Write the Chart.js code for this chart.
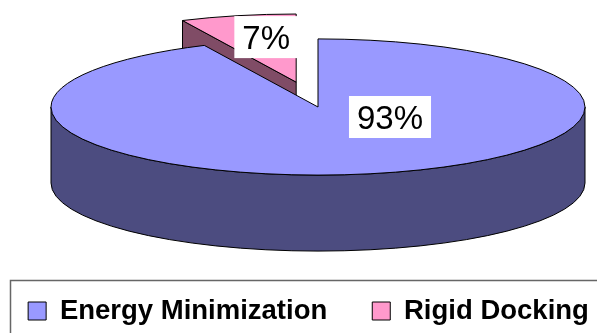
<!DOCTYPE html>
<html>
<head>
<meta charset="utf-8">
<script src="https://cdn.jsdelivr.net/npm/chart.js@4/dist/chart.umd.min.js"></script>
<style>
  html, body { margin: 0; padding: 0; background: #fff; }
</style>
</head>
<body>
<canvas id="pieChart" width="597" height="333"></canvas>
<script>
// Share of poses by refinement method
const categories = ['Energy Minimization', 'Rigid Docking'];
const shares = [93, 7];

// Look of the 3-D pie
const topColors = ['#9999FF', '#FF99CC'];
const sideColors = ['#4C4C80', '#804C66'];
const explodeBy = [0, 100];        // pull-out of each slice, before flattening
const pieCenter = { x: 318, y: 107 };
const tilt = 0.255;                // vertical squash of the top face
const depth = 76;                  // height of the side walls
const labelOffsets = [[72, 10], [-30, -45]];   // label centre from slice apex

// map a point of the flat pie onto the tilted one
function project(chart, x, y) {
  const o = chart.$origin;
  return { x: pieCenter.x + (x - o.x), y: pieCenter.y + (y - o.y) * tilt };
}

function drawWalls(ctx, chart, arc, color) {
  const c = project(chart, arc.x, arc.y);
  const rx = arc.outerRadius, ry = rx * tilt;
  const s = arc.startAngle, e = arc.endAngle;
  ctx.save();
  ctx.fillStyle = color;
  ctx.strokeStyle = '#000';
  ctx.lineWidth = 1;
  ctx.lineJoin = 'round';

  // outer rim, only the front half shows
  for (let k = -1; k <= 1; k++) {
    const lo = Math.max(s, k * 2 * Math.PI);
    const hi = Math.min(e, k * 2 * Math.PI + Math.PI);
    if (hi <= lo) continue;
    ctx.beginPath();
    ctx.ellipse(c.x, c.y, rx, ry, 0, lo, hi);
    ctx.ellipse(c.x, c.y + depth, rx, ry, 0, hi, lo, true);
    ctx.closePath();
    ctx.fill();
    ctx.stroke();
  }

  // cut faces turned toward the viewer
  [[s, -1], [e, 1]].forEach(([t, side]) => {
    if (side * Math.cos(t) <= 1e-6) return;
    const px = c.x + rx * Math.cos(t), py = c.y + ry * Math.sin(t);
    ctx.beginPath();
    ctx.moveTo(c.x, c.y);
    ctx.lineTo(px, py);
    ctx.lineTo(px, py + depth);
    ctx.lineTo(c.x, c.y + depth);
    ctx.closePath();
    ctx.fill();
    ctx.stroke();
  });
  ctx.restore();
}

const pie3d = {
  id: 'pie3d',
  afterDatasetUpdate(chart, args) {
    const arcs = args.meta.data;
    if (!arcs.length) return;
    chart.$origin = { x: arcs[0].x, y: arcs[0].y };
    arcs.forEach((arc, i) => {
      const mid = (arc.startAngle + arc.endAngle) / 2;
      arc.x += Math.cos(mid) * explodeBy[i];
      arc.y += Math.sin(mid) * explodeBy[i];
    });
  },
  beforeDatasetsDraw(chart) {
    const ctx = chart.ctx;
    const arcs = chart.getDatasetMeta(0).data;
    // walls first, back slices before front ones
    arcs.map((a, i) => i)
      .sort((a, b) => arcs[a].y - arcs[b].y)
      .forEach(i => drawWalls(ctx, chart, arcs[i], sideColors[i]));
    // the library then paints the top faces into a flattened context
    ctx.save();
    ctx.translate(pieCenter.x, pieCenter.y);
    ctx.scale(1, tilt);
    ctx.translate(-chart.$origin.x, -chart.$origin.y);
  },
  afterDatasetsDraw(chart) {
    const ctx = chart.ctx;
    ctx.restore();
    const arcs = chart.getDatasetMeta(0).data;
    const total = shares.reduce((a, b) => a + b, 0);

    ctx.save();
    ctx.strokeStyle = '#000';
    ctx.lineWidth = 1;
    ctx.lineJoin = 'round';
    arcs.forEach(arc => {
      const c = project(chart, arc.x, arc.y);
      ctx.beginPath();
      ctx.moveTo(c.x, c.y);
      ctx.ellipse(c.x, c.y, arc.outerRadius, arc.outerRadius * tilt, 0, arc.startAngle, arc.endAngle);
      ctx.closePath();
      ctx.stroke();
    });

    // percentage labels on white boxes
    ctx.font = '33px "Liberation Sans", Arial, sans-serif';
    ctx.textAlign = 'center';
    ctx.textBaseline = 'middle';
    arcs.forEach((arc, i) => {
      const c = project(chart, arc.x, arc.y);
      const text = Math.round(shares[i] / total * 100) + '%';
      const lx = c.x + labelOffsets[i][0], ly = c.y + labelOffsets[i][1];
      const w = ctx.measureText(text).width + 16, h = 42;
      ctx.fillStyle = '#fff';
      ctx.fillRect(lx - w / 2, ly - h / 2, w, h);
      ctx.fillStyle = '#000';
      ctx.fillText(text, lx, ly + 3);
    });
    ctx.restore();
  },
  afterDraw(chart) {
    // frame round the legend
    const ctx = chart.ctx;
    ctx.save();
    ctx.strokeStyle = '#666';
    ctx.lineWidth = 1.5;
    ctx.strokeRect(10.5, 280.5, 700, 200);
    ctx.restore();
  }
};

const baseLabels = Chart.overrides.doughnut.plugins.legend.labels.generateLabels;

new Chart(document.getElementById('pieChart'), {
  type: 'pie',
  data: {
    labels: categories,
    datasets: [{
      data: shares,
      backgroundColor: topColors,
      borderWidth: 0,
      clip: false
    }]
  },
  options: {
    responsive: false,
    animation: false,
    events: [],
    radius: 267,
    layout: {
      padding: { left: -20, right: -40, top: 0, bottom: -1.75 }
    },
    plugins: {
      tooltip: { enabled: false },
      legend: {
        position: 'bottom',
        labels: {
          boxWidth: 18,
          boxHeight: 18,
          padding: 45,
          color: '#000',
          font: { family: '"Liberation Sans", Arial, sans-serif', size: 27.5, weight: 'bold' },
          generateLabels(chart) {
            return baseLabels(chart).map(item => Object.assign(item, { strokeStyle: '#000', lineWidth: 1 }));
          }
        }
      }
    }
  },
  plugins: [pie3d]
});
</script>
</body>
</html>
